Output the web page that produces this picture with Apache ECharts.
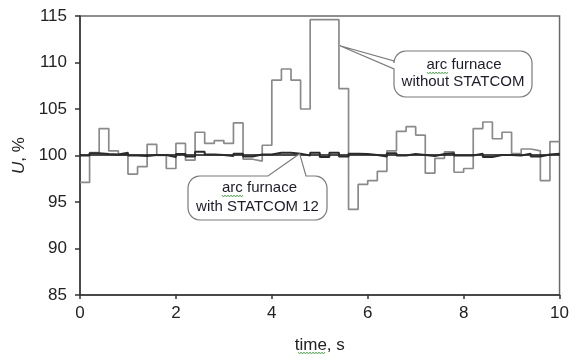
<!DOCTYPE html>
<html><head><meta charset="utf-8">
<script src="https://cdn.jsdelivr.net/npm/echarts@6/dist/echarts.min.js"></script>
<style>html,body{margin:0;padding:0;background:#fff}#c{width:572px;height:360px}</style>
</head><body><div id="c"></div>
<script>
var timeS = [0,0.2,0.4,0.6,0.8,1.0,1.2,1.4,1.6,1.8,2.0,2.2,2.4,2.6,2.8,3.0,3.2,3.4,3.6,3.8,4.0,4.2,4.4,4.6,4.8,5.0,5.2,5.4,5.6,5.8,6.0,6.2,6.4,6.6,6.8,7.0,7.2,7.4,7.6,7.8,8.0,8.2,8.4,8.6,8.8,9.0,9.2,9.4,9.6,9.8,10.0];
var withoutStatcom = [97.1,100.3,102.9,100.5,100.1,98.0,98.8,101.2,100.0,98.6,101.3,99.5,102.5,101.3,101.6,101.3,103.5,99.6,99.4,101.1,108.1,109.3,108.1,105.0,114.6,114.6,114.6,107.2,94.2,96.9,97.3,98.3,100.5,102.6,103.1,102.2,98.1,99.7,100.4,98.2,98.6,102.9,103.6,101.8,102.5,100.2,100.7,100.5,97.3,101.5,101.5];
var withStatcom = [100.0,100.25,100.15,100.1,100.3,100.0,99.95,100.05,100.05,99.85,100.15,99.9,100.4,100.1,100.05,99.95,100.2,99.9,100.1,100.1,100.3,100.3,100.2,100.0,100.3,99.85,100.3,99.9,100.2,100.15,100.05,99.9,100.25,100.0,100.15,100.05,99.95,100.15,100.25,100.0,100.0,100.2,99.85,100.05,100.05,100.0,100.2,99.9,100.1,100.2,100.2];
var nominalX = [0,10];
var nominalY = [100.05,100.05];
var xTicks = [0,2,4,6,8,10];
var yTicks = [85,90,95,100,105,110,115];
var label1 = ['arc furnace','without STATCOM'];
var label2 = ['arc furnace','with STATCOM 12'];

function pairs(xs, ys){ return xs.map(function(x,i){return [x, ys[i]];}); }

var chart = echarts.init(document.getElementById('c'));
var font = '"Liberation Sans", Arial, sans-serif';
chart.setOption({
  animation:false,
  grid:{left:80,right:8,top:16,bottom:65,show:true,borderColor:'#6a6a6a',borderWidth:1.5},
  xAxis:{type:'value',min:xTicks[0],max:xTicks[xTicks.length-1],interval:2,
    name:'time, s',nameLocation:'middle',nameGap:42,
    nameTextStyle:{fontFamily:font,fontSize:17,color:'#222'},
    axisLine:{lineStyle:{color:'#333',width:1.5}},
    axisTick:{show:true,length:4,lineStyle:{color:'#333',width:1.5}},
    axisLabel:{fontFamily:font,fontSize:17,color:'#222',margin:10},
    splitLine:{show:false}},
  yAxis:{type:'value',min:yTicks[0],max:yTicks[yTicks.length-1],interval:5,
    name:'{i|U}, %',nameLocation:'middle',nameGap:50,nameRotate:90,
    nameTextStyle:{fontFamily:font,fontSize:17,color:'#222',rich:{i:{fontStyle:'italic',fontFamily:font,fontSize:17,color:'#222'}}},
    axisLine:{show:true,lineStyle:{color:'#333',width:1.5}},
    axisTick:{show:true,length:5,lineStyle:{color:'#333',width:1.5}},
    axisLabel:{fontFamily:font,fontSize:17,color:'#222',margin:13},
    splitLine:{show:false}},
  series:[
    {type:'line',step:'end',data:pairs(timeS,withoutStatcom),
     showSymbol:false,lineStyle:{color:'#8a8a8a',width:1.7},z:2},
    {type:'line',data:pairs(nominalX,nominalY),showSymbol:false,lineStyle:{color:'#111',width:1.5},z:3},
    {type:'line',step:'end',data:pairs(timeS,withStatcom),showSymbol:false,lineStyle:{color:'#2a2a2a',width:2},z:4}
  ]
});

function wave(x0,x1,y){
  var pts=[],up=true;
  for(var x=x0;x<=x1;x+=1.5){pts.push([x,up?y:y+2]);up=!up;}
  return {type:'polyline',shape:{points:pts},style:{stroke:'#3c9a3c',lineWidth:0.8,fill:null},z:120};
}
function arc(pts,cx,cy,r,a0,a1){
  for(var k=0;k<=6;k++){var a=a0+(a1-a0)*k/6;pts.push([cx+r*Math.cos(a),cy+r*Math.sin(a)]);}
}
function callout(b, side, tailPts){
  var p=[], r=b.r, x=b.x, y=b.y, w=b.w, h=b.h, PI=Math.PI;
  arc(p,x+r,y+r,r,PI,1.5*PI);
  if(side==='top') tailPts.forEach(function(q){p.push(q);});
  arc(p,x+w-r,y+r,r,1.5*PI,2*PI);
  arc(p,x+w-r,y+h-r,r,0,0.5*PI);
  arc(p,x+r,y+h-r,r,0.5*PI,PI);
  if(side==='left') tailPts.forEach(function(q){p.push(q);});
  return p;
}

var tip1 = chart.convertToPixel({gridIndex:0},[5.42, 111.8]);
var tip2 = chart.convertToPixel({gridIndex:0},[4.58, 100.2]);
var b1={x:394,y:51,w:138,h:46,r:12};
var b2={x:188,y:176,w:139,h:44,r:12};
var poly1 = callout(b1,'left',[[b1.x,b1.y+18],[tip1[0],tip1[1]],[b1.x,b1.y+10]]);
var poly2 = callout(b2,'top',[[b2.x+80,b2.y],[tip2[0],tip2[1]],[b2.x+118,b2.y]]);

var tcol='#1c1c2a';
chart.setOption({graphic:[
  {type:'polygon',shape:{points:poly1},style:{fill:'#fff',stroke:'#7a7a7a',lineWidth:1.2},z:100},
  {type:'text',x:b1.x+b1.w/2+1,y:b1.y+14,style:{text:label1[0],font:'15px '+font,fill:tcol,align:'center',verticalAlign:'middle'},z:110},
  {type:'text',x:b1.x+b1.w/2,y:b1.y+31,style:{text:label1[1],font:'15px '+font,fill:tcol,align:'center',verticalAlign:'middle'},z:110},
  wave(b1.x+33,b1.x+55,b1.y+21),
  {type:'polygon',shape:{points:poly2},style:{fill:'#fff',stroke:'#7a7a7a',lineWidth:1.2},z:100},
  {type:'text',x:b2.x+b2.w/2+2,y:b2.y+12,style:{text:label2[0],font:'15px '+font,fill:tcol,align:'center',verticalAlign:'middle'},z:110},
  {type:'text',x:b2.x+b2.w/2,y:b2.y+31,style:{text:label2[1],font:'15px '+font,fill:tcol,align:'center',verticalAlign:'middle'},z:110},
  wave(b2.x+34,b2.x+56,b2.y+19),
  wave(298,326,352)
]});
</script></body></html>
